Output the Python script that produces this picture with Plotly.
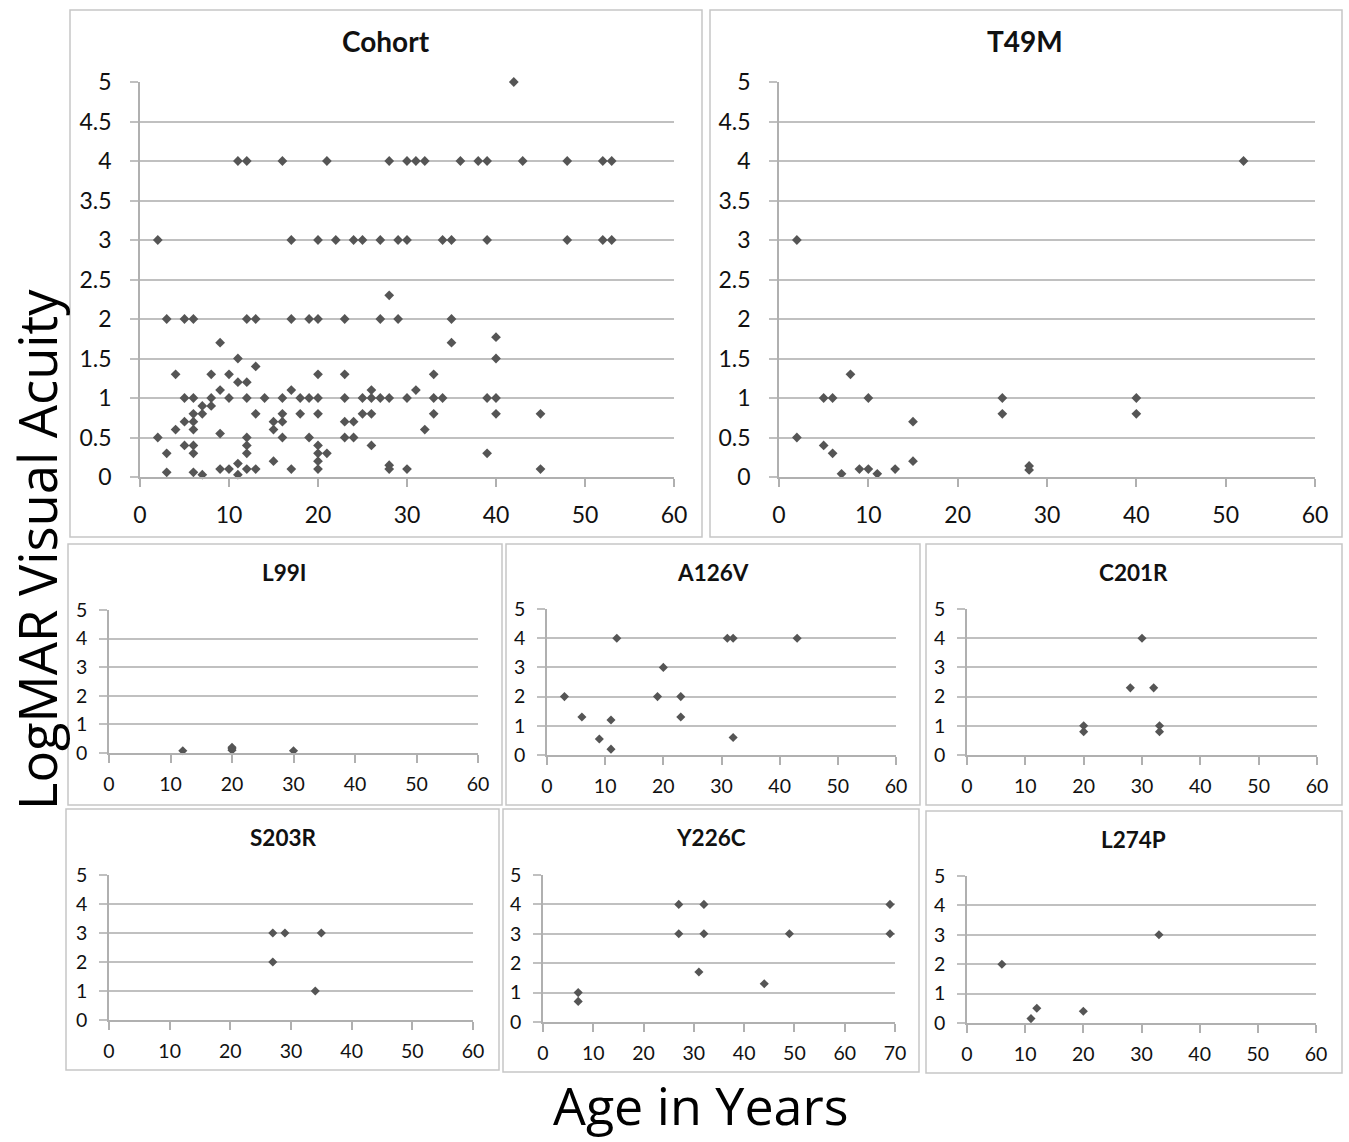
import plotly.graph_objects as go

W, H = 1349, 1142

# ---------------- data ----------------
panel_titles = ["Cohort", "T49M", "L99I", "A126V", "C201R", "S203R", "Y226C", "L274P"]

cohort_age = [42,
              11, 12, 16, 21, 28, 30, 31, 32, 36, 38, 39, 43, 48, 52, 53,
              2, 17, 20, 22, 24, 25, 27, 29, 30, 34, 35, 39, 48, 52, 53,
              28,
              3, 5, 6, 12, 13, 17, 19, 20, 23, 27, 29, 35,
              40, 9, 35, 11, 40, 13,
              4, 8, 10, 20, 23, 33,
              11, 12,
              9, 17, 26, 31,
              5, 6, 8, 10, 12, 14, 16, 18, 19, 20, 23, 25, 26, 27, 28, 30, 33, 34, 39, 40,
              7, 8,
              6, 7, 13, 16, 18, 20, 25, 26, 33, 40, 45,
              5, 6, 15, 16, 23, 24,
              4, 6, 15, 32,
              9,
              2, 12, 16, 19, 23, 24,
              5, 6, 12, 20, 26,
              3, 6, 12, 20, 21, 39,
              15, 20, 11, 28,
              9, 10, 12, 13, 17, 20, 28, 30, 45,
              3, 6, 7, 11]
cohort_va = [5,
             4, 4, 4, 4, 4, 4, 4, 4, 4, 4, 4, 4, 4, 4, 4,
             3, 3, 3, 3, 3, 3, 3, 3, 3, 3, 3, 3, 3, 3, 3,
             2.3,
             2, 2, 2, 2, 2, 2, 2, 2, 2, 2, 2, 2,
             1.77, 1.7, 1.7, 1.5, 1.5, 1.4,
             1.3, 1.3, 1.3, 1.3, 1.3, 1.3,
             1.2, 1.2,
             1.1, 1.1, 1.1, 1.1,
             1, 1, 1, 1, 1, 1, 1, 1, 1, 1, 1, 1, 1, 1, 1, 1, 1, 1, 1, 1,
             0.9, 0.9,
             0.8, 0.8, 0.8, 0.8, 0.8, 0.8, 0.8, 0.8, 0.8, 0.8, 0.8,
             0.7, 0.7, 0.7, 0.7, 0.7, 0.7,
             0.6, 0.6, 0.6, 0.6,
             0.55,
             0.5, 0.5, 0.5, 0.5, 0.5, 0.5,
             0.4, 0.4, 0.4, 0.4, 0.4,
             0.3, 0.3, 0.3, 0.3, 0.3, 0.3,
             0.2, 0.2, 0.17, 0.15,
             0.1, 0.1, 0.1, 0.1, 0.1, 0.1, 0.1, 0.1, 0.1,
             0.06, 0.06, 0.03, 0.03]

t49m_age = [52, 2, 2, 8, 5, 6, 10, 25, 25, 40, 40, 15, 15, 5, 6, 7, 9, 10, 11, 13, 28, 28]
t49m_va = [4, 3, 0.5, 1.3, 1, 1, 1, 1, 0.8, 1, 0.8, 0.7, 0.2, 0.4, 0.3, 0.04, 0.1, 0.1, 0.04, 0.1, 0.14, 0.09]

l99i_age = [12, 20, 20, 20, 30]
l99i_va = [0.08, 0.1, 0.15, 0.2, 0.08]

a126v_age = [3, 6, 9, 11, 11, 12, 20, 19, 23, 23, 31, 32, 32, 43]
a126v_va = [2, 1.3, 0.55, 1.2, 0.2, 4, 3, 2, 2, 1.3, 4, 4, 0.6, 4]

c201r_age = [30, 28, 32, 20, 20, 33, 33]
c201r_va = [4, 2.3, 2.3, 1, 0.8, 1, 0.8]

s203r_age = [27, 29, 35, 27, 34]
s203r_va = [3, 3, 3, 2, 1]

y226c_age = [7, 7, 27, 32, 27, 32, 49, 69, 69, 31, 44]
y226c_va = [1, 0.7, 4, 4, 3, 3, 3, 4, 3, 1.7, 1.3]

l274p_age = [6, 11, 12, 20, 33]
l274p_va = [2, 0.15, 0.5, 0.4, 3]

x_max = [60, 60, 60, 60, 60, 60, 70, 60]
y_dtick = [0.5, 0.5, 1, 1, 1, 1, 1, 1]

# ---------------- layout geometry (pixels) ----------------
plot_boxes = [  # x0, x1, ytop, ybottom
    (140, 674, 82, 477),
    (779, 1315, 82, 477),
    (109, 478, 610, 753),
    (547, 896, 609, 755),
    (967, 1317, 609, 755),
    (109, 473, 875, 1020),
    (543, 895, 875, 1022),
    (967, 1316, 876, 1023),
]
frames = [
    (70, 702, 10, 537),
    (710, 1342, 10, 537),
    (68, 502, 544, 805),
    (506, 920, 544, 805),
    (926, 1342, 544, 805),
    (66, 499, 809, 1070),
    (503, 919, 809, 1072),
    (926, 1342, 811, 1073),
]
title_pos = [(386, 41), (1025, 41), (284, 572), (713, 572), (1133, 572),
             (283, 837), (711, 837), (1133, 839)]

data = [(cohort_age, cohort_va), (t49m_age, t49m_va), (l99i_age, l99i_va),
        (a126v_age, a126v_va), (c201r_age, c201r_va), (s203r_age, s203r_va),
        (y226c_age, y226c_va), (l274p_age, l274p_va)]


def fx(p):
    return p / W


def fy(p):
    return 1 - p / H


fig = go.Figure()
MARK = "#555555"
GRID = "#c0c0c0"
AXL = "#b0b0b0"

for i, ((ax, ay), box) in enumerate(zip(data, plot_boxes)):
    n = "" if i == 0 else str(i + 1)
    big = i < 2
    fig.add_trace(go.Scatter(
        x=ax, y=ay, mode="markers",
        marker=dict(symbol="diamond", size=7.5 if big else 7, color=MARK, line=dict(width=0)),
        xaxis="x" + n, yaxis="y" + n, cliponaxis=False, showlegend=False,
        hoverinfo="x+y"))
    x0, x1, yt, yb = box
    tf = dict(family="Lato, 'Open Sans', sans-serif", size=23 if big else 19.5, color="#111111")
    fig.layout["xaxis" + n] = dict(
        domain=[fx(x0), fx(x1)], anchor="y" + n, range=[0, x_max[i]],
        tick0=0, dtick=10, showgrid=False, zeroline=False, automargin=False,
        showline=True, linecolor=AXL, linewidth=1.5,
        ticks="outside", ticklen=8, tickcolor=AXL, tickwidth=1.5,
        tickfont=tf, ticklabelstandoff=9 if big else 5, fixedrange=True)
    fig.layout["yaxis" + n] = dict(
        domain=[fy(yb), fy(yt)], anchor="x" + n, range=[0, 5],
        tick0=0, dtick=y_dtick[i], showgrid=True, gridcolor=GRID, gridwidth=1.5,
        zeroline=False, showline=True, linecolor=AXL, linewidth=1.5, automargin=False,
        ticks="outside", ticklen=8, tickcolor=GRID, tickwidth=1.5,
        tickfont=tf, ticklabelstandoff=14 if big else 8, fixedrange=True)

shapes = []
for (a, b, c, d) in frames:
    shapes.append(dict(type="rect", xref="paper", yref="paper",
                       x0=fx(a), x1=fx(b), y0=fy(d), y1=fy(c),
                       line=dict(color="#c6c6c6", width=1.5), fillcolor="rgba(0,0,0,0)",
                       layer="below"))

annotations = []
for i, (t, (px, py)) in enumerate(zip(panel_titles, title_pos)):
    annotations.append(dict(
        text="<b>%s</b>" % t, x=fx(px), y=fy(py), xref="paper", yref="paper",
        showarrow=False, xanchor="center", yanchor="middle",
        font=dict(family="Lato, 'Open Sans', sans-serif", size=28 if i < 2 else 22.5, color="#111111")))

annotations.append(dict(text="LogMAR Visual Acuity", x=fx(37), y=fy(550), xref="paper", yref="paper",
                        showarrow=False, textangle=-90, xanchor="center", yanchor="middle", borderpad=0,
                        font=dict(family="'Open Sans', sans-serif", size=52.5, color="#000000")))
annotations.append(dict(text="Age in Years", x=fx(701), y=fy(1104), xref="paper", yref="paper",
                        showarrow=False, xanchor="center", yanchor="middle", borderpad=0,
                        font=dict(family="'Open Sans', sans-serif", size=52, color="#000000")))

fig.update_layout(width=W, height=H, margin=dict(l=0, r=0, t=0, b=0, autoexpand=False),
                  paper_bgcolor="white", plot_bgcolor="white",
                  shapes=shapes, annotations=annotations, showlegend=False)

fig.write_html("out.html", config={"displayModeBar": False},
               post_script="document.body.style.margin='0';document.body.style.overflow='hidden';")
